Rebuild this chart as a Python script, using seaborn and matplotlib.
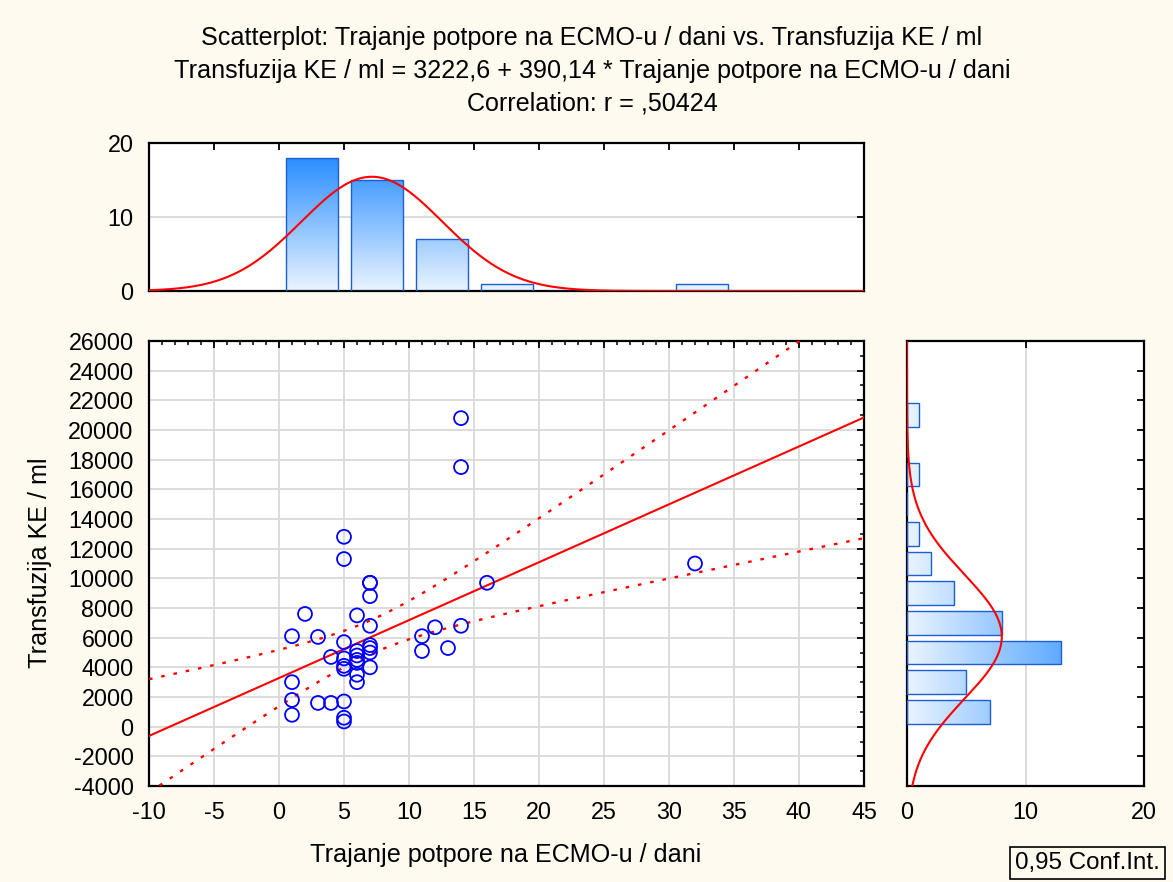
import numpy as np
import pandas as pd
import matplotlib
matplotlib.use("Agg")
import matplotlib.pyplot as plt
import seaborn as sns
from matplotlib.colors import LinearSegmentedColormap
from matplotlib.ticker import MultipleLocator

# ---------------- data ----------------
ecmo_days = [1, 1, 1, 1, 2, 3, 3, 4, 4,
             5, 5, 5, 5, 5, 5, 5, 5, 5,
             6, 6, 6, 6, 6, 6, 6,
             7, 7, 7, 7, 7, 7, 7, 7,
             11, 11, 12, 13, 14, 14, 14, 16, 32]
transfusion_ml = [6100, 3000, 1800, 800, 7600, 6050, 1600, 4700, 1600,
                  12800, 11300, 5700, 4600, 4100, 3900, 1700, 600, 350,
                  7500, 5100, 4800, 4500, 4300, 3500, 3000,
                  9700, 9700, 8800, 6800, 5500, 5300, 5000, 4000,
                  6100, 5100, 6700, 5300, 20800, 17500, 6800, 9700, 11000]

title_lines = ["Scatterplot: Trajanje potpore na ECMO-u / dani vs. Transfuzija KE / ml",
               "Transfuzija KE / ml = 3222,6 + 390,14 * Trajanje potpore na ECMO-u / dani",
               "Correlation: r = ,50424"]
x_label = "Trajanje potpore na ECMO-u / dani"
y_label = "Transfuzija KE / ml"
legend_text = "0,95 Conf.Int."

x_bin_edges = [0, 5, 10, 15, 20, 25, 30, 35]
y_bin_edges = list(range(0, 24000, 2000))
x_ticks = list(range(-10, 50, 5))
y_ticks = list(range(-4000, 28000, 2000))
hist_ticks = [0, 10, 20]

# ---------------- style ----------------
sns.set_theme(style="white")
plt.rcParams["font.family"] = ["Liberation Sans", "DejaVu Sans"]
plt.rcParams["axes.unicode_minus"] = False
plt.rcParams["text.color"] = "black"
plt.rcParams["xtick.color"] = "black"
plt.rcParams["ytick.color"] = "black"
plt.rcParams["xtick.labelcolor"] = "black"
plt.rcParams["ytick.labelcolor"] = "black"

BG = "#FFFAF0"
FS_TICK = 16.8
FS_TEXT = 18.1
GRID = "#D9D9D9"
EDGE = "#1A5FD6"
cmap = LinearSegmentedColormap.from_list("bluegrad", ["#EAF4FF", "#1482FF"])

fig = plt.figure(figsize=(11.73, 8.82), dpi=100, facecolor=BG)
W, H = 1173.0, 882.0


def box(l, t, r, b):
    return [l / W, 1 - b / H, (r - l) / W, (b - t) / H]


ax_main = fig.add_axes(box(149, 341, 864, 786))
ax_top = fig.add_axes(box(149, 143, 864, 291))
ax_right = fig.add_axes(box(907, 341, 1144, 786))

df = pd.DataFrame({"x": ecmo_days, "y": transfusion_ml})
n = len(df)

# ---------------- main scatter + regression ----------------
xlim = (-10, 45)
ylim = (-4000, 26000)
slope, intercept = np.polyfit(df.x, df.y, 1)
grid_x = np.linspace(xlim[0], xlim[1], 400)
fit = intercept + slope * grid_x
resid = df.y - (intercept + slope * df.x)
s_res = np.sqrt(np.sum(resid ** 2) / (n - 2))
sxx = np.sum((df.x - df.x.mean()) ** 2)
t_val = 2.0211
half = t_val * s_res * np.sqrt(1.0 / n + (grid_x - df.x.mean()) ** 2 / sxx)

ax_main.set_facecolor("white")
ax_main.set_axisbelow(True)
ax_main.grid(True, which="major", color=GRID, lw=1.3)
sns.lineplot(x=grid_x, y=fit, ax=ax_main, color="#FF0000", lw=1.5, zorder=3)
sns.lineplot(x=grid_x, y=fit + half, ax=ax_main, color="#FF0000", lw=1.7,
             linestyle=(0, (1.5, 3.8)), zorder=3)
sns.lineplot(x=grid_x, y=fit - half, ax=ax_main, color="#FF0000", lw=1.7,
             linestyle=(0, (1.5, 3.8)), zorder=3)
sns.scatterplot(data=df, x="x", y="y", ax=ax_main, marker="o", s=100,
                facecolor="none", edgecolor="#0000FF", linewidth=1.3, zorder=4)
ax_main.set_xlim(xlim)
ax_main.set_ylim(ylim)
ax_main.set_xticks(x_ticks)
ax_main.set_yticks(y_ticks)
ax_main.xaxis.set_minor_locator(MultipleLocator(1))
ax_main.yaxis.set_minor_locator(MultipleLocator(1000))
ax_main.set_xlabel("")
ax_main.set_ylabel("")

# ---------------- histograms ----------------
def gradient_fill(ax, horizontal):
    for p in list(ax.patches):
        x0, y0 = p.get_x(), p.get_y()
        w, h = p.get_width(), p.get_height()
        if horizontal:
            g = np.linspace(0, w / 20.0, 256).reshape(1, -1)
        else:
            g = np.linspace(0, h / 20.0, 256).reshape(-1, 1)
        im = ax.imshow(g, cmap=cmap, vmin=0, vmax=1, origin="lower",
                       extent=(x0, x0 + w, y0, y0 + h), aspect="auto",
                       zorder=2, interpolation="bilinear")
        im.set_clip_path(p)
        p.set_facecolor("none")
        p.set_edgecolor(EDGE)
        p.set_linewidth(1.0)
        p.set_zorder(3)


x_counts = pd.cut(df.x, x_bin_edges, right=True).value_counts(sort=False).values
x_centers = np.array(x_bin_edges[:-1]) + 2.5
mask = x_counts > 0
ax_top.set_facecolor("white")
ax_top.set_axisbelow(True)
ax_top.grid(True, axis="y", color=GRID, lw=1.3)
sns.histplot(x=x_centers[mask], weights=x_counts[mask], bins=x_bin_edges,
             shrink=0.8, ax=ax_top, stat="count")
gradient_fill(ax_top, horizontal=False)
mx, sx = df.x.mean(), df.x.std()
pdf_x = n * 5 * np.exp(-0.5 * ((grid_x - mx) / sx) ** 2) / (sx * np.sqrt(2 * np.pi))
sns.lineplot(x=grid_x, y=pdf_x, ax=ax_top, color="#FF0000", lw=1.5, zorder=4)
ax_top.set_xlim(xlim)
ax_top.set_ylim(0, 20)
ax_top.set_xticks(x_ticks)
ax_top.set_yticks(hist_ticks)
ax_top.set_xticklabels([])
ax_top.set_xlabel("")
ax_top.set_ylabel("")

y_counts = pd.cut(df.y, y_bin_edges, right=True).value_counts(sort=False).values
y_centers = np.array(y_bin_edges[:-1]) + 1000
mask = y_counts > 0
ax_right.set_facecolor("white")
ax_right.set_axisbelow(True)
ax_right.grid(True, axis="x", color=GRID, lw=1.3)
sns.histplot(y=y_centers[mask], weights=y_counts[mask], bins=y_bin_edges,
             shrink=0.8, ax=ax_right, stat="count")
gradient_fill(ax_right, horizontal=True)
grid_y = np.linspace(ylim[0], ylim[1], 400)
my, sy = df.y.mean(), df.y.std()
pdf_y = n * 2000 * np.exp(-0.5 * ((grid_y - my) / sy) ** 2) / (sy * np.sqrt(2 * np.pi))
sns.lineplot(x=pdf_y, y=grid_y, ax=ax_right, color="#FF0000", lw=1.5,
             sort=False, estimator=None, zorder=4)
ax_right.set_xlim(0, 20)
ax_right.set_ylim(ylim)
ax_right.set_xticks(hist_ticks)
ax_right.set_yticks(y_ticks)
ax_right.set_yticklabels([])
ax_right.set_xlabel("")
ax_right.set_ylabel("")

for ax in (ax_main, ax_top, ax_right):
    for sp in ax.spines.values():
        sp.set_visible(True)
        sp.set_color("black")
        sp.set_linewidth(1.6)
    ax.tick_params(which="major", direction="in", top=True, right=True,
                   length=5, width=1.3, color="black", labelcolor="black",
                   labelsize=FS_TICK)
    ax.tick_params(which="minor", direction="in", top=True, right=True,
                   length=3, width=1.1, color="black")
    ax.tick_params(axis="y", pad=11)
    ax.tick_params(axis="x", pad=11)

# ---------------- texts ----------------
for i, line in enumerate(title_lines):
    fig.text(592 / W, 1 - (38 + 33 * i) / H, line, ha="center", va="center",
             fontsize=FS_TEXT, color="black")
fig.text(506 / W, 1 - 855 / H, x_label, ha="center", va="center",
         fontsize=FS_TEXT, color="black")
fig.text(40 / W, 1 - 563 / H, y_label, ha="center", va="center",
         rotation=90, fontsize=FS_TEXT, color="black")
fig.text(1015 / W, 1 - 863 / H, legend_text, ha="left", va="center", fontsize=17.4,
         color="black",
         bbox=dict(boxstyle="square,pad=0.22", fc=BG, ec="black", lw=1.2))

fig.savefig("out.png", dpi=100, facecolor=BG)
